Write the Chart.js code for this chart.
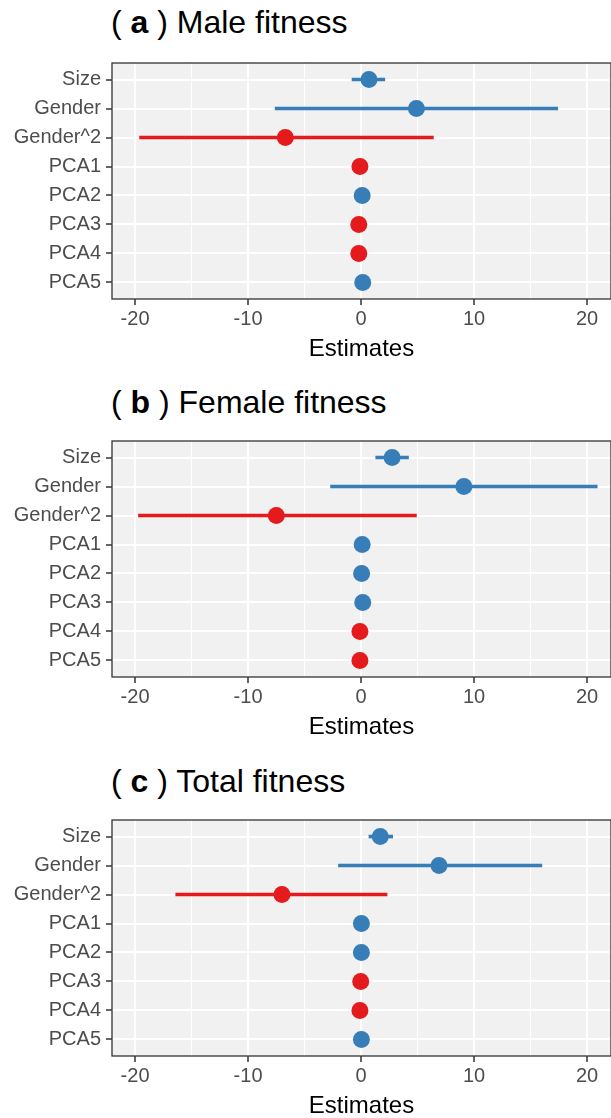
<!DOCTYPE html>
<html>
<head>
<meta charset="utf-8">
<script src="https://cdn.jsdelivr.net/npm/chart.js@4.4.1/dist/chart.umd.min.js"></script>
<style>
  html, body { margin: 0; padding: 0; background: #fff; }
  body { position: relative; width: 611px; height: 1118px; overflow: hidden; font-family: "Liberation Sans", Arial, Helvetica, sans-serif; }
  .ttl { position: absolute; left: 111px; font-size: 32px; line-height: 32px; color: #000; white-space: pre; }
  .ttl b { font-weight: bold; }
  canvas { position: absolute; left: 0; }
</style>
</head>
<body>
<div class="ttl" id="t0" style="top:6px"></div>
<canvas id="c0" width="611" height="318" style="top:46px"></canvas>
<div class="ttl" id="t1" style="top:386px"></div>
<canvas id="c1" width="611" height="318" style="top:424px"></canvas>
<div class="ttl" id="t2" style="top:765px"></div>
<canvas id="c2" width="611" height="318" style="top:803px"></canvas>
<script>
// Данные
const terms = ['Size', 'Gender', 'Gender^2', 'PCA1', 'PCA2', 'PCA3', 'PCA4', 'PCA5'];
const panelLetters = ['a', 'b', 'c'];
const panelNames = ['Male fitness', 'Female fitness', 'Total fitness'];
const xTicks = [-20, -10, 0, 10, 20];

// (a) Male fitness
const maleEst = [0.7, 4.9, -6.7, -0.1, 0.1, -0.2, -0.2, 0.15];
const maleLow = [-0.8, -7.6, -19.6, -0.2, 0.0, -0.3, -0.3, 0.05];
const maleHigh = [2.1, 17.4, 6.4, 0.0, 0.2, -0.1, -0.1, 0.25];

// (b) Female fitness
const femaleEst = [2.75, 9.1, -7.5, 0.1, 0.05, 0.15, -0.1, -0.1];
const femaleLow = [1.3, -2.7, -19.7, 0.0, -0.05, 0.05, -0.2, -0.2];
const femaleHigh = [4.2, 20.9, 4.9, 0.2, 0.15, 0.25, 0.0, 0.0];

// (c) Total fitness
const totalEst = [1.7, 6.9, -7.0, 0.03, 0.03, -0.03, -0.1, 0.03];
const totalLow = [0.7, -2.0, -16.4, -0.07, -0.07, -0.13, -0.2, -0.07];
const totalHigh = [2.8, 16.0, 2.3, 0.13, 0.13, 0.07, 0.0, 0.13];

const BLUE = '#377EB8';
const RED = '#E41A1C';
const TICK_FONT = { family: '"Liberation Sans", Arial, Helvetica, sans-serif', size: 20 };

// Фон и рамка панели
const panelFrame = {
  id: 'panelFrame',
  beforeDraw(chart) {
    const { ctx, chartArea: a } = chart;
    ctx.save();
    ctx.fillStyle = '#F1F1F1';
    ctx.fillRect(a.left, a.top, a.right - a.left, a.bottom - a.top);
    ctx.restore();
  },
  afterDraw(chart) {
    const { ctx, chartArea: a } = chart;
    ctx.save();
    ctx.strokeStyle = '#333333';
    ctx.lineWidth = 1.3;
    ctx.strokeRect(a.left, a.top, a.right - a.left, a.bottom - a.top);
    ctx.restore();
  },
};

function makePanel(idx, est, low, high) {
  document.getElementById('t' + idx).innerHTML = '( <b>' + panelLetters[idx] + '</b> ) ' + panelNames[idx];
  const colors = est.map((v) => (v < 0 ? RED : BLUE));

  return new Chart(document.getElementById('c' + idx), {
    type: 'bar',
    data: {
      datasets: [
        {
          type: 'bar',
          data: terms.map((t, i) => ({ x: [low[i], high[i]], y: i })),
          backgroundColor: colors,
          borderWidth: 0,
          barThickness: 3,
        },
        {
          type: 'scatter',
          data: terms.map((t, i) => ({ x: est[i], y: i })),
          pointRadius: 8.5,
          pointBackgroundColor: colors,
          pointBorderWidth: 0,
        },
      ],
    },
    options: {
      indexAxis: 'y',
      responsive: false,
      animation: false,
      devicePixelRatio: 1,
      layout: { padding: { top: 8, left: 0, right: 0, bottom: 0 }, autoPadding: false },
      plugins: { legend: { display: false }, tooltip: { enabled: false } },
      scales: {
        x: {
          type: 'linear',
          position: 'bottom',
          min: -22.04,
          max: 22.12,
          afterBuildTicks: (scale) => {
            const ticks = [];
            for (let v = -20; v <= 20; v += 5) ticks.push({ value: v });
            scale.ticks = ticks;
          },
          afterFit: (scale) => { scale.height = 65; },
          ticks: {
            callback: (v) => (xTicks.includes(v) ? String(v) : ''),
            font: TICK_FONT,
            color: '#4D4D4D',
            padding: 2,
            maxRotation: 0,
            autoSkip: false,
          },
          grid: {
            color: '#FFFFFF',
            lineWidth: (c) => (c.tick && xTicks.includes(c.tick.value) ? 2 : 1),
            tickColor: (c) => (c.tick && xTicks.includes(c.tick.value) ? '#333333' : 'rgba(0,0,0,0)'),
            tickLength: 6,
            tickWidth: 1.5,
          },
          border: { display: false },
          title: {
            display: true,
            text: 'Estimates',
            color: '#000000',
            font: { family: TICK_FONT.family, size: 24 },
            padding: 0,
          },
        },
        y: {
          type: 'linear',
          reverse: true,
          offset: false,
          min: -0.57,
          max: 7.57,
          afterBuildTicks: (scale) => {
            scale.ticks = terms.map((t, i) => ({ value: i }));
          },
          afterFit: (scale) => { scale.width = 112; },
          ticks: {
            callback: (v) => terms[v],
            font: TICK_FONT,
            color: '#4D4D4D',
            padding: 5,
            autoSkip: false,
          },
          grid: {
            offset: false,
            color: '#FFFFFF',
            lineWidth: 2,
            tickColor: '#333333',
            tickLength: 6,
            tickWidth: 1.5,
          },
          border: { display: false },
        },
      },
    },
    plugins: [panelFrame],
  });
}

makePanel(0, maleEst, maleLow, maleHigh);
makePanel(1, femaleEst, femaleLow, femaleHigh);
makePanel(2, totalEst, totalLow, totalHigh);
</script>
</body>
</html>
